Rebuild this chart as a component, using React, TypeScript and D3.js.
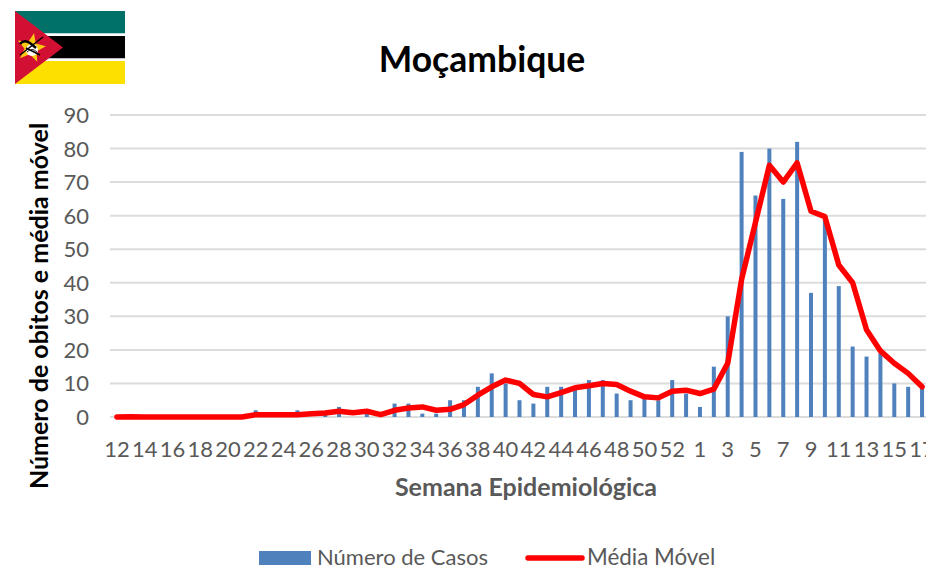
import React from "react";
import * as d3 from "d3";

const weeks = ["12","13","14","15","16","17","18","19","20","21","22","23","24","25","26","27","28","29","30","31","32","33","34","35","36","37","38","39","40","41","42","43","44","45","46","47","48","49","50","51","52","53","1","2","3","4","5","6","7","8","9","10","11","12b","13b","14b","15b","16b","17b"];
const casos = [0,0,0,0,0,0,0,0,0,0,2,0,0,2,0,1,3,0,1,0,4,4,1,1,5,5,9,13,10,5,4,9,9,9,11,11,7,5,6,5,11,7,3,15,30,79,66,80,65,82,37,59,39,21,18,19,10,9,9];
const media = [0,0.1,0,0,0,0,0,0,0,0,0.7,0.7,0.7,0.7,1,1.2,1.7,1.3,1.7,0.7,2,2.7,3,2,2.3,3.7,6.5,9,11,10,6.7,6,7.3,8.7,9.3,10,9.7,7.7,6,5.7,7.7,8,7,8.3,16,41,58,75,70,75.7,61.3,59.7,45.3,40,26,19.7,16,13,9];
const yTicks = [0,10,20,30,40,50,60,70,80,90];

const FONT = "Lato, 'Open Sans', sans-serif";
const TXT = "#595959";

const x = d3.scaleBand<string>().domain(weeks).range([110, 929]);
const y = d3.scaleLinear().domain([0, 90]).range([417, 115]);
const line = d3.line<number>().x((_, i) => x(weeks[i])! + x.bandwidth() / 2).y(d => y(d));

function starPoints(cx: number, cy: number, R: number, r: number) {
  return d3.range(10).map(i => {
    const a = -Math.PI / 2 + (i * Math.PI) / 5 + 0.2;
    const q = i % 2 ? r : R;
    return `${cx + q * Math.cos(a)},${cy + q * Math.sin(a)}`;
  }).join(" ");
}

function Flag() {
  return (
    <g>
      <rect x={15} y={11} width={110} height={22.5} fill="#007168" />
      <rect x={15} y={33.5} width={110} height={3} fill="#fff" />
      <rect x={15} y={36} width={110} height={22.5} fill="#000" />
      <rect x={15} y={58.5} width={110} height={2.5} fill="#fff" />
      <rect x={15} y={61} width={110} height={23} fill="#fde000" />
      <polygon points="15,11 63,47.5 15,84" fill="#d21034" />
      <polygon points={starPoints(31, 48, 15, 6.5)} fill="#fcc90f" />
      <circle cx={32} cy={50} r={6} fill="#fff" />
      <path d="M20 44 Q24 39 30 43 L36 48" stroke="#000" strokeWidth={2.5} fill="none" />
      <path d="M20 55 L43 37" stroke="#000" strokeWidth={1.5} fill="none" />
      <path d="M26 48 L40 55" stroke="#000" strokeWidth={1.5} fill="none" />
      <path d="M27 52 Q32 47 37 52" stroke="#222" strokeWidth={1} fill="none" />
    </g>
  );
}

export default function App() {
  const tickWeeks = weeks.filter((_, i) => i % 2 === 0);
  return (
    <svg width={926} height={581} viewBox="0 0 926 581" style={{ position: "absolute", left: 0, top: 0, background: "#fff" }} fontFamily={FONT}>
      <Flag />
      <text x={482} y={72} textAnchor="middle" fontSize={35.5} fontWeight={700} fill="#000">Moçambique</text>

      {yTicks.map(t => (
        <g key={t}>
          <line x1={110} x2={926} y1={y(t)} y2={y(t)} stroke="#dcdcdc" strokeWidth={2} />
          <text x={89} y={y(t) + 8} textAnchor="end" fontSize={22} fill={TXT}>{t}</text>
        </g>
      ))}

      {casos.map((v, i) => (
        <rect key={i} x={x(weeks[i])! + x.bandwidth() / 2 - 2} y={y(v)} width={4} height={y(0) - y(v)} fill="#4f81bd" />
      ))}

      <path d={line(media)!} fill="none" stroke="#ff0000" strokeWidth={5.5} strokeLinejoin="round" strokeLinecap="round" />

      {tickWeeks.map(w => (
        <text key={w} x={x(w)! + x.bandwidth() / 2} y={457} textAnchor="middle" fontSize={22} fill={TXT}>{w.replace("b", "")}</text>
      ))}

      <text x={526} y={496} textAnchor="middle" fontSize={25} fontWeight={700} fill={TXT}>Semana Epidemiológica</text>
      <text transform="translate(48,306) rotate(-90)" textAnchor="middle" fontSize={25} fontWeight={700} fill="#000">Número de obitos e média móvel</text>

      <rect x={259} y={551} width={52} height={14} fill="#4f81bd" />
      <text x={317} y={565} fontSize={22} fill={TXT}>Número de Casos</text>
      <line x1={528} x2={582} y1={558} y2={558} stroke="#ff0000" strokeWidth={5.5} strokeLinecap="round" />
      <text x={587} y={565} fontSize={22.4} fill={TXT}>Média Móvel</text>
    </svg>
  );
}
